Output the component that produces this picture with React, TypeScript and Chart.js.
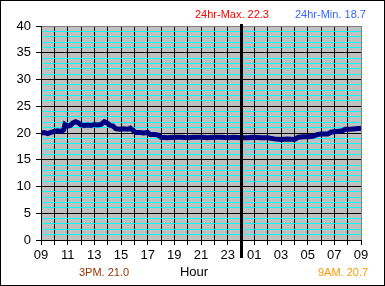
import React, { useEffect, useRef } from "react";
import { Chart, registerables } from "chart.js";

Chart.register(...registerables);

// hours since 09:00
const hours = [
  0, 0.25, 0.5, 0.75, 1.0, 1.25, 1.5, 1.7, 1.8, 2.0, 2.2, 2.4, 2.6, 2.8, 3.0, 3.25, 3.5, 3.75,
  4.0, 4.25, 4.5, 4.75, 5.0, 5.2, 5.4, 5.6, 5.9, 6.2, 6.5, 6.7, 6.9, 7.1, 7.4, 7.7, 8.0, 8.2,
  8.5, 8.8, 9.0, 9.5, 10, 10.5, 11, 11.5, 12, 12.5, 13, 13.5, 14, 14.5, 15, 15.5, 16, 16.5, 17,
  17.5, 18, 18.5, 19, 19.3, 19.7, 20, 20.4, 20.7, 21, 21.5, 21.8, 22.2, 22.6, 22.8, 23.2, 23.6, 24,
];
const temps = [
  20.0, 20.1, 19.9, 20.1, 20.3, 20.4, 20.3, 20.6, 21.6, 21.3, 21.4, 21.9, 22.1, 21.9, 21.5, 21.4, 21.5, 21.4,
  21.6, 21.5, 21.6, 22.1, 21.8, 21.4, 21.3, 20.8, 20.7, 20.8, 20.7, 20.9, 20.5, 20.1, 20.1, 20.0, 20.1, 19.7,
  19.7, 19.6, 19.2, 19.1, 19.2, 19.2, 19.1, 19.2, 19.2, 19.1, 19.2, 19.2, 19.1, 19.2, 19.1, 19.1, 19.2, 19.1, 19.1,
  18.9, 18.8, 18.9, 18.8, 19.2, 19.3, 19.3, 19.4, 19.7, 19.8, 19.8, 20.2, 20.3, 20.4, 20.7, 20.7, 20.8, 20.9,
];
const startHour = 9;
const midnightOffset = 15;
const maxLabel = "24hr-Max. 22.3";
const minLabel = "24hr-Min. 18.7";
const pmLabel = "3PM. 21.0";
const amLabel = "9AM. 20.7";
const xTitle = "Hour";

const FONT = "'Liberation Sans', Arial, sans-serif";

export default function App() {
  const ref = useRef<HTMLCanvasElement>(null);
  useEffect(() => {
    document.body.style.margin = "0";
    const canvas = ref.current!;
    const decor = {
      id: "decor",
      beforeDraw(chart: any) {
        const { ctx, chartArea: a } = chart;
        ctx.save();
        ctx.fillStyle = "#ffffff";
        ctx.fillRect(0, 0, chart.width, chart.height);
        ctx.fillStyle = "#c0c0c0";
        ctx.fillRect(a.left, a.top, a.right - a.left, a.bottom - a.top);
        ctx.restore();
      },
      afterDatasetsDraw(chart: any) {
        const { ctx, chartArea: a } = chart;
        const x = Math.round(chart.scales.x.getPixelForValue(midnightOffset));
        ctx.save();
        ctx.fillStyle = "#000000";
        ctx.fillRect(x - 1, a.top - 2, 3, a.bottom - a.top + 20);
        ctx.restore();
      },
      afterDraw(chart: any) {
        const { ctx } = chart;
        ctx.save();
        ctx.textBaseline = "middle";
        ctx.font = `11px ${FONT}`;
        ctx.textAlign = "left";
        ctx.fillStyle = "#ff0000";
        ctx.fillText(maxLabel, 195, 15);
        ctx.fillStyle = "#3366ff";
        ctx.fillText(minLabel, 295, 15);
        ctx.fillStyle = "#993300";
        ctx.fillText(pmLabel, 79, 273);
        ctx.fillStyle = "#ff9900";
        ctx.fillText(amLabel, 318, 273);
        ctx.font = `13px ${FONT}`;
        ctx.fillStyle = "#000000";
        ctx.textAlign = "center";
        ctx.fillText(xTitle, 194, 272);
        ctx.strokeStyle = "#000000";
        ctx.lineWidth = 1;
        ctx.strokeRect(0.5, 0.5, chart.width - 1, chart.height - 1);
        ctx.restore();
      },
    };
    const chart = new Chart(canvas, {
      type: "line",
      data: {
        datasets: [
          {
            data: hours.map((h, i) => ({ x: h, y: temps[i] })),
            borderColor: "#000080",
            borderWidth: 5,
            pointRadius: 0,
            tension: 0,
            fill: false,
          },
        ],
      },
      options: {
        responsive: false,
        animation: false,
        devicePixelRatio: 1,
        layout: { padding: { left: 0, top: 26, right: 24, bottom: 0 } },
        plugins: { legend: { display: false }, tooltip: { enabled: false }, title: { display: false } },
        scales: {
          x: {
            type: "linear",
            min: 0,
            max: 24,
            afterFit: (s: any) => {
              s.height = 46;
            },
            ticks: {
              stepSize: 1,
              autoSkip: false,
              maxRotation: 0,
              padding: 3,
              color: "#000000",
              font: { family: FONT, size: 13 },
              callback: (v: any) => {
                const n = Number(v);
                if (n % 2 !== 0) return "";
                return String((startHour + n) % 24).padStart(2, "0");
              },
            },
            grid: {
              color: (c: any) => (c.tick && c.tick.value === 24 ? "#808080" : "#000000"),
              lineWidth: 1,
              tickLength: 5,
              tickColor: "#000000",
            },
            border: { color: "#000000", width: 1 },
          },
          y: {
            min: 0,
            max: 40,
            afterFit: (s: any) => {
              s.width = 41;
            },
            ticks: {
              stepSize: 1,
              autoSkip: false,
              padding: 5,
              color: "#000000",
              font: { family: FONT, size: 13 },
              callback: (v: any) => (Number(v) % 5 === 0 ? String(v) : ""),
            },
            grid: {
              color: (c: any) => {
                const v = c.tick ? c.tick.value : 0;
                if (v === 40) return "#808080";
                return v % 5 === 0 ? "#000000" : "#00ffff";
              },
              lineWidth: 1,
              tickLength: 5,
              tickColor: (c: any) => (c.tick && c.tick.value % 5 === 0 ? "#000000" : "rgba(0,0,0,0)"),
            },
            border: { color: "#000000", width: 1 },
          },
        },
      },
      plugins: [decor],
    });
    return () => chart.destroy();
  }, []);
  return (
    <div style={{ width: 385, height: 286 }}>
      <canvas ref={ref} width={385} height={286} style={{ display: "block", width: 385, height: 286 }} />
    </div>
  );
}
